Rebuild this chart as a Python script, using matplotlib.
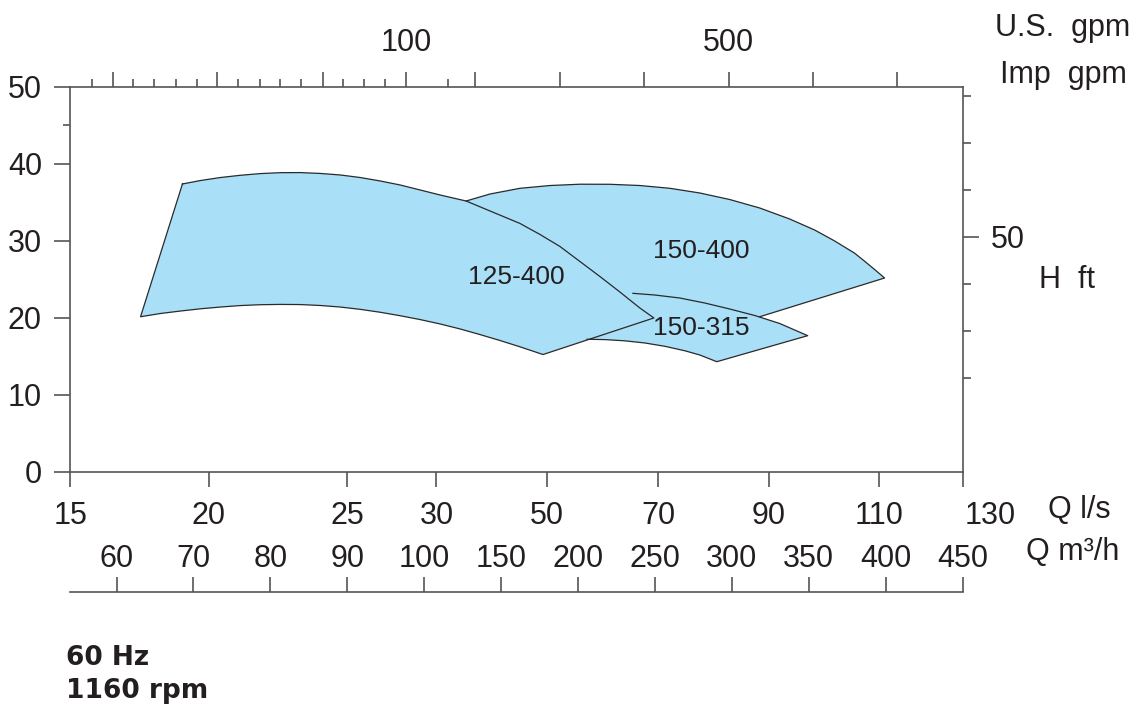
import numpy as np
import matplotlib
matplotlib.use("Agg")
import matplotlib.pyplot as plt
from matplotlib.scale import FuncScale

plt.rcParams['font.family'] = ['Liberation Sans', 'DejaVu Sans']

# ---------------- data ----------------
# flow axis (m3/h) tick values, evenly spaced on the chart
flow_knots = [60, 70, 80, 90, 100, 150, 200, 250, 300, 350, 400, 450]
qls_ticks = [15, 20, 25, 30, 50, 70, 90, 110, 130]          # l/s
gpm_major = [59.5, 73.1, 86.8, 97.7, 133.1, 188.3, 242.9, 298.1, 352.6, 407.2]  # positions on flow axis
gpm_minor = [56.75, 62.2, 64.9, 67.7, 70.4, 75.8, 78.6, 81.3, 84.0, 89.5, 92.2, 94.9, 115.6]
gpm_labels = {97.7: "100", 298.1: "500"}
h_ticks = [0, 10, 20, 30, 40, 50]
h_minor = [45]
ft_major = [100]
ft_minor = [40, 60, 80, 120, 140, 160]

# pump ranges: Q (m3/h), H (m)
r125_top_q = [68.57, 70.91, 73.51, 76.10, 78.70, 81.30, 83.90, 86.49, 89.09, 91.69, 94.29,
              96.88, 99.48, 110.39, 127.27, 142.86, 162.34, 175.32, 188.31, 201.30,
              214.29, 227.27, 240.26, 249.35]
r125_top_h = [37.34, 37.79, 38.18, 38.47, 38.69, 38.81, 38.82, 38.71, 38.51, 38.18, 37.73,
              37.21, 36.56, 35.91, 35.13, 33.83, 32.21, 30.78, 29.22, 27.27,
              25.32, 23.31, 21.23, 19.94]
r125_bot_q = [63.12, 65.71, 68.31, 70.91, 73.51, 76.10, 78.70, 81.30, 83.90, 86.49, 89.09,
              91.69, 94.29, 96.88, 99.48, 110.39, 123.38, 136.36, 149.35, 162.34, 177.27]
r125_bot_h = [20.10, 20.52, 20.84, 21.13, 21.36, 21.55, 21.66, 21.70, 21.68, 21.56, 21.36,
              21.06, 20.68, 20.23, 19.73, 19.16, 18.51, 17.78, 17.01, 16.19, 15.19]

r150_400_top_q = [127.27, 142.86, 162.34, 181.82, 201.30, 220.78, 240.26, 259.74, 279.22,
                  298.70, 318.18, 337.66, 353.90, 366.88, 379.87, 386.36, 392.86, 399.35]
r150_400_top_h = [35.13, 36.04, 36.78, 37.14, 37.31, 37.30, 37.14, 36.78, 36.17,
                  35.32, 34.22, 32.79, 31.36, 29.94, 28.35, 27.31, 26.23, 25.13]
r150_400_low_q = [399.35, 318.18]
r150_400_low_h = [25.13, 20.10]

r150_315_top_q = [235.71, 250.00, 266.23, 282.47, 298.70, 314.94, 331.17, 349.35]
r150_315_top_h = [23.14, 22.92, 22.53, 21.88, 21.10, 20.26, 19.22, 17.64]
r150_315_bot_q = [205.84, 217.53, 230.52, 243.51, 256.49, 269.48, 279.22, 290.26]
r150_315_bot_h = [17.17, 17.13, 16.97, 16.69, 16.26, 15.68, 15.13, 14.26]

labels = [("125-400", 160.2, 25.3), ("150-400", 280.3, 28.7), ("150-315", 280.3, 18.7)]

# ---------------- scale ----------------
KN = np.array(flow_knots, float)
IDX = np.arange(len(KN), dtype=float)


def fwd(x):
    x = np.asarray(x, float)
    y = np.interp(x, KN, IDX)
    y = np.where(x < KN[0], (x - KN[0]) / 10.0, y)
    y = np.where(x > KN[-1], IDX[-1] + (x - KN[-1]) / 50.0, y)
    return y


def inv(y):
    y = np.asarray(y, float)
    x = np.interp(y, IDX, KN)
    x = np.where(y < 0, KN[0] + y * 10.0, x)
    x = np.where(y > IDX[-1], KN[-1] + (y - IDX[-1]) * 50.0, x)
    return x


XLIM = (15 * 3.6, 450)
LINE = '#555555'
TXT = '#231f20'
FILL = '#a9dff7'
EDGE = '#2a2a2a'
FS = 22

fig = plt.figure(figsize=(11.36, 7.09), dpi=100)
L, R = 70.4 / 1136, 962.5 / 1136
T, B = 1 - 86.5 / 709, 1 - 471.5 / 709
ax = fig.add_axes([L, B, R - L, T - B])
ax.set_xscale(FuncScale(ax, (fwd, inv)))
ax.set_xlim(*XLIM)
ax.set_ylim(0, 50)

for s in ax.spines.values():
    s.set_color(LINE)
    s.set_linewidth(1.2)

# fills (all ranges share one colour; outlines drawn separately)
ax.fill(r150_400_top_q + r150_400_low_q[1:] + [r150_315_top_q[0], r150_315_bot_q[0]],
        r150_400_top_h + r150_400_low_h[1:] + [r150_315_top_h[0], r150_315_bot_h[0]],
        color=FILL, lw=0, zorder=1)
ax.fill(r150_315_top_q + r150_315_bot_q[::-1],
        r150_315_top_h + r150_315_bot_h[::-1], color=FILL, lw=0, zorder=1)
ax.fill(r125_top_q + r125_bot_q[::-1], r125_top_h + r125_bot_h[::-1],
        color=FILL, lw=0, zorder=1)
# outlines
ax.plot(r150_400_top_q + r150_400_low_q[1:], r150_400_top_h + r150_400_low_h[1:],
        color=EDGE, lw=0.9, zorder=2, solid_joinstyle='round')
ax.plot(r150_315_top_q + r150_315_bot_q[::-1], r150_315_top_h + r150_315_bot_h[::-1],
        color=EDGE, lw=0.9, zorder=2, solid_joinstyle='round')
ax.plot(r125_top_q + r125_bot_q[::-1] + r125_top_q[:1],
        r125_top_h + r125_bot_h[::-1] + r125_top_h[:1], color=EDGE, lw=0.9, zorder=3,
        solid_joinstyle='round')
for t, q, h in labels:
    ax.text(q, h, t, fontsize=19, color=TXT, ha='center', va='center', zorder=4)

# left axis
ax.set_yticks(h_ticks)
ax.set_yticklabels([str(v) for v in h_ticks])
ax.set_yticks(h_minor, minor=True)
ax.tick_params(axis='y', which='major', direction='out', length=11.5, width=1.2, color=LINE,
               labelsize=FS, labelcolor=TXT, pad=9)
ax.tick_params(axis='y', which='minor', direction='out', length=5, width=1.2, color=LINE)
# bottom l/s axis
qls_pos = [min(v * 3.6, XLIM[1]) for v in qls_ticks]
ax.set_xticks(qls_pos)
ax.set_xticklabels([str(v) for v in qls_ticks[:-1]] + [''])
ax.tick_params(axis='x', direction='out', length=11, width=1.2, color=LINE,
               labelsize=FS, labelcolor=TXT, pad=10)
ax.annotate(str(qls_ticks[-1]), xy=(qls_ticks[-1] * 3.6, 0),
            xycoords=('data', 'axes fraction'), xytext=(0, -21),
            textcoords='offset points', ha='center', va='top',
            fontsize=FS, color=TXT, annotation_clip=False)

# top gpm axis
axt = ax.twiny()
axt.set_xscale(FuncScale(axt, (fwd, inv)))
axt.set_xlim(*XLIM)
axt.set_xticks(gpm_major)
axt.set_xticklabels([gpm_labels.get(v, '') for v in gpm_major])
axt.set_xticks(gpm_minor, minor=True)
axt.tick_params(axis='x', which='major', direction='out', length=10.5, width=1.2,
                color=LINE, labelsize=FS, labelcolor=TXT, pad=10)
axt.tick_params(axis='x', which='minor', direction='out', length=6, width=1.2, color=LINE)
for s in axt.spines.values():
    s.set_visible(False)

# right ft axis
axr = ax.twinx()
axr.set_ylim(0, 50 / 0.3048)
axr.set_yticks(ft_major)
axr.set_yticklabels(['50'])
axr.set_yticks(ft_minor, minor=True)
axr.tick_params(axis='y', which='major', direction='out', length=11.5, width=1.2,
                color=LINE, labelsize=FS, labelcolor=TXT, pad=9)
axr.tick_params(axis='y', which='minor', direction='out', length=6, width=1.2, color=LINE)
for s in axr.spines.values():
    s.set_visible(False)

# m3/h axis
B2 = 1 - 592 / 709
axm = fig.add_axes([L, B2 - 0.0001, R - L, 0.0001])
axm.set_xscale(FuncScale(axm, (fwd, inv)))
axm.set_xlim(*XLIM)
axm.patch.set_visible(False)
for k, s in axm.spines.items():
    s.set_visible(k == 'top')
axm.spines['top'].set_color(LINE)
axm.spines['top'].set_linewidth(1.2)
axm.set_yticks([])
axm.set_xticks(flow_knots)
axm.set_xticklabels([str(v) for v in flow_knots])
axm.tick_params(axis='x', bottom=False, labelbottom=False, top=True, labeltop=True,
                direction='out', length=11, width=1.2, color=LINE,
                labelsize=FS, labelcolor=TXT, pad=2)

# axis titles
fig.text(1063 / 1136, 1 - 28 / 709, 'U.S.  gpm', fontsize=FS, color=TXT, ha='center', va='center')
fig.text(1063 / 1136, 1 - 75 / 709, 'Imp  gpm', fontsize=FS, color=TXT, ha='center', va='center')
fig.text(1067 / 1136, 1 - 280 / 709, 'H  ft', fontsize=FS, color=TXT, ha='center', va='center')
fig.text(1079 / 1136, 1 - 510 / 709, 'Q l/s', fontsize=FS, color=TXT, ha='center', va='center')
fig.text(1073 / 1136, 1 - 552 / 709, 'Q m³/h', fontsize=FS, color=TXT, ha='center', va='center')

fig.text(66 / 1136, 1 - 658 / 709, '60 Hz', fontsize=19, fontweight='bold',
         family='DejaVu Sans', color=TXT, ha='left', va='center')
fig.text(66 / 1136, 1 - 691 / 709, '1160 rpm', fontsize=19, fontweight='bold',
         family='DejaVu Sans', color=TXT, ha='left', va='center')

fig.savefig('out.png', dpi=100)
